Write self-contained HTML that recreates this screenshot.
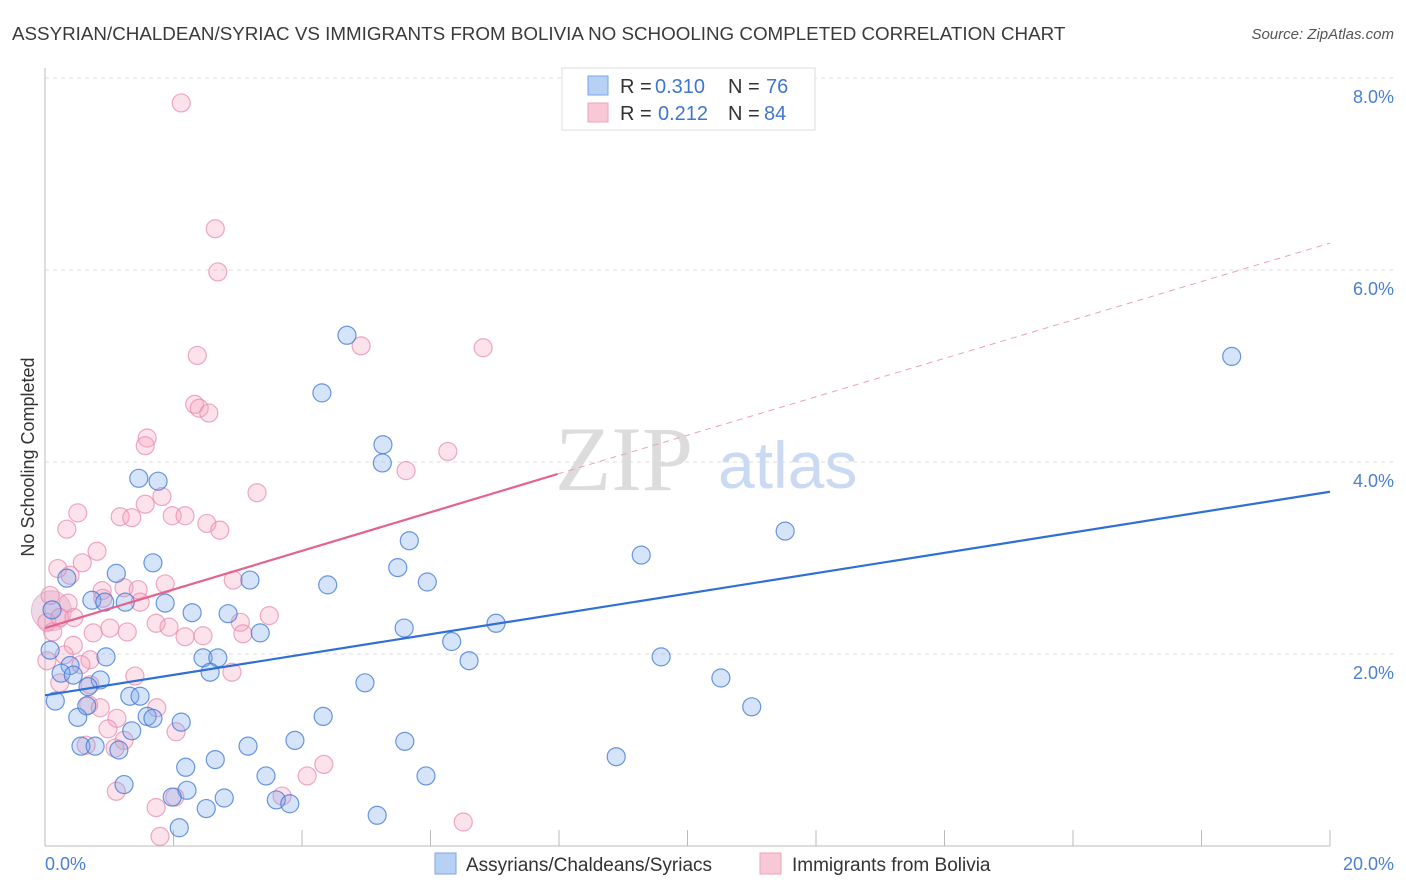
<!DOCTYPE html>
<html><head><meta charset="utf-8"><style>
body{margin:0;background:#fff;width:1406px;height:892px;overflow:hidden;font-family:"Liberation Sans",sans-serif}
svg{display:block}
</style></head><body>
<svg id="chart" width="1406" height="892">
<text x="12" y="40" font-size="18.8" fill="#3a3a3a">ASSYRIAN/CHALDEAN/SYRIAC VS IMMIGRANTS FROM BOLIVIA NO SCHOOLING COMPLETED CORRELATION CHART</text>
<text x="1394" y="39" font-size="15" fill="#555" font-style="italic" text-anchor="end">Source: ZipAtlas.com</text>
<text transform="translate(34,457) rotate(-90)" font-size="18" fill="#333" text-anchor="middle">No Schooling Completed</text>
<g id="grid"></g>
<line x1="45" y1="68" x2="45" y2="846" stroke="#bbb"/>
<line x1="45" y1="846" x2="1330" y2="846" stroke="#bbb"/>
<g id="xticks"></g>
<text x="555" y="490" font-size="92" font-family="Liberation Serif,serif" fill="#dcdcdc">ZIP</text>
<text x="718" y="488" font-size="66" fill="#c9daf2">atlas</text>
<g id="pts"></g>
<g id="lines"></g>
<text x="45" y="870" font-size="18" fill="#4a7fd4">0.0%</text>
<text x="1394" y="870" font-size="18" fill="#4a7fd4" text-anchor="end">20.0%</text>
<g>
<rect x="562" y="68" width="253" height="62" fill="#fff" stroke="#ddd"/>
<rect x="588" y="76" width="20" height="19" fill="#b7d1f5" stroke="#7aa6e6"/>
<rect x="588" y="103" width="20" height="19" fill="#f9c8d7" stroke="#eea1bb"/>
<text x="620" y="93" font-size="20" fill="#333">R =</text>
<text x="655" y="93" font-size="20" fill="#3f76d0">0.310</text>
<text x="728" y="93" font-size="20" fill="#333">N =</text>
<text x="766" y="93" font-size="20" fill="#3f76d0">76</text>
<text x="620" y="120" font-size="20" fill="#333">R =</text>
<text x="658" y="120" font-size="20" fill="#3f76d0">0.212</text>
<text x="728" y="120" font-size="20" fill="#333">N =</text>
<text x="764" y="120" font-size="20" fill="#3f76d0">84</text>
</g>
<g>
<rect x="435" y="853" width="21" height="21" fill="#b7d1f5" stroke="#7aa6e6"/>
<text x="466" y="871" font-size="19" fill="#333">Assyrians/Chaldeans/Syriacs</text>
<rect x="760" y="853" width="21" height="21" fill="#f9c8d7" stroke="#eea1bb"/>
<text x="792" y="871" font-size="19" fill="#333">Immigrants from Bolivia</text>
</g>
</svg>
<script>
const yTicks=[2,4,6,8];
const yTickLabels=["2.0%","4.0%","6.0%","8.0%"];
const xTicks=[0,2,4,6,8,10,12,14,16,18,20];
const blueX=[4.70,4.31,18.47,5.26,5.25,1.46,1.76,5.67,11.52,9.28,1.68,1.11,0.34,5.49,5.95,4.40,3.19,0.73,1.25,1.87,2.29,2.85,3.35,5.59,7.02,6.33,6.60,9.59,0.95,2.46,2.69,2.57,0.39,0.25,0.44,0.86,0.67,1.32,1.48,0.16,10.52,11.00,4.98,4.33,0.51,0.65,1.59,1.68,2.12,1.35,0.56,0.78,1.15,3.16,3.89,5.60,8.89,2.65,2.19,3.44,5.93,1.23,2.21,1.98,2.79,3.60,3.81,2.51,5.17,2.09,0.08,0.11,0.93];
const blueY=[5.32,4.72,5.10,4.18,3.99,3.83,3.80,3.18,3.28,3.03,2.95,2.84,2.79,2.90,2.75,2.72,2.77,2.56,2.54,2.53,2.43,2.42,2.22,2.27,2.32,2.13,1.93,1.97,1.97,1.96,1.96,1.81,1.88,1.80,1.78,1.73,1.66,1.56,1.56,1.51,1.75,1.45,1.70,1.35,1.34,1.46,1.35,1.33,1.29,1.20,1.04,1.04,1.00,1.04,1.10,1.09,0.93,0.90,0.82,0.73,0.73,0.64,0.58,0.51,0.50,0.48,0.44,0.39,0.32,0.19,2.04,2.46,2.54];
const pinkX=[2.12,2.65,2.69,2.37,4.92,6.82,2.33,2.40,2.55,1.59,1.56,6.27,5.62,3.30,1.82,0.51,1.56,1.17,1.35,1.98,2.18,2.52,2.72,0.34,0.81,0.58,0.20,0.39,1.87,1.23,0.89,1.45,2.93,0.08,0.90,1.48,0.36,0.03,0.23,0.45,1.73,1.93,3.04,3.49,1.01,1.28,0.75,2.18,2.46,3.08,0.12,0.44,0.70,0.30,0.56,0.03,1.40,0.23,2.91,0.70,0.68,0.86,1.74,1.12,0.98,2.04,1.23,1.09,4.34,4.08,2.02,1.11,1.73,3.69,6.51,1.79,0.64];
const pinkY=[7.74,6.43,5.98,5.11,5.21,5.19,4.60,4.56,4.51,4.25,4.17,4.11,3.91,3.68,3.64,3.47,3.56,3.43,3.42,3.44,3.44,3.36,3.29,3.30,3.07,2.95,2.89,2.82,2.73,2.69,2.66,2.67,2.77,2.61,2.58,2.54,2.53,2.33,2.38,2.38,2.32,2.28,2.33,2.40,2.27,2.23,2.22,2.18,2.19,2.21,2.23,2.09,1.94,1.99,1.89,1.93,1.77,1.70,1.81,1.68,1.47,1.44,1.44,1.33,1.22,1.19,1.10,1.02,0.85,0.73,0.51,0.57,0.40,0.52,0.25,0.10,1.05];
const bigPoint=[0.1,2.45];
const blueTrend=[1.57,3.69];
const pinkTrend=[2.27,3.875,7.98,6.28];
const NS="http://www.w3.org/2000/svg";
const sx=v=>45+v*64.25, sy=v=>846-v*96;
function mk(t,a,p){const e=document.createElementNS(NS,t);for(const k in a)e.setAttribute(k,a[k]);p.appendChild(e);return e;}
const grid=document.getElementById('grid');
yTicks.forEach((t,i)=>{
 const l=mk('line',{x1:45,x2:1394,y1:sy(t),y2:sy(t),stroke:'#ddd','stroke-dasharray':'4,4'},grid);
 
 
 const tx=mk('text',{x:1394,y:sy(t)+25,'font-size':18,fill:'#4a7fd4','text-anchor':'end'},grid);
 tx.textContent=yTickLabels[i];
 
 
});
const xt=document.getElementById('xticks');
xTicks.forEach(t=>{
 const l=mk('line',{x1:sx(t),x2:sx(t),y1:830,y2:846,stroke:'#bbb'},xt);
 
 
});
const pts=document.getElementById('pts');
const bc=mk('circle',{cx:sx(bigPoint[0]),cy:sy(bigPoint[1]),r:20,fill:'rgba(205,150,185,0.35)',stroke:'rgba(220,150,185,0.6)'},pts);


pinkX.forEach((x,i)=>{
 const c=mk('circle',{cx:sx(x),cy:sy(pinkY[i]),r:9,fill:'rgba(245,160,190,0.3)',stroke:'rgba(232,140,175,0.75)','stroke-width':1.2},pts);
 
 
});
blueX.forEach((x,i)=>{
 const c=mk('circle',{cx:sx(x),cy:sy(blueY[i]),r:9,fill:'rgba(120,165,235,0.3)',stroke:'rgba(70,125,215,0.8)','stroke-width':1.2},pts);
 
 
});
const ln=document.getElementById('lines');
const b=mk('line',{x1:sx(0),y1:sy(blueTrend[0]),x2:sx(20),y2:sy(blueTrend[1]),stroke:'#2f6fd6','stroke-width':2.2},ln);


const p=mk('line',{x1:sx(0),y1:sy(pinkTrend[0]),x2:sx(pinkTrend[2]),y2:sy(pinkTrend[1]),stroke:'#e4628e','stroke-width':2.2},ln);


const pd=mk('line',{x1:sx(pinkTrend[2]),y1:sy(pinkTrend[1]),x2:sx(20),y2:sy(pinkTrend[3]),stroke:'#eba0b8','stroke-width':1,'stroke-dasharray':'6,5'},ln);


</script>
</body></html>
